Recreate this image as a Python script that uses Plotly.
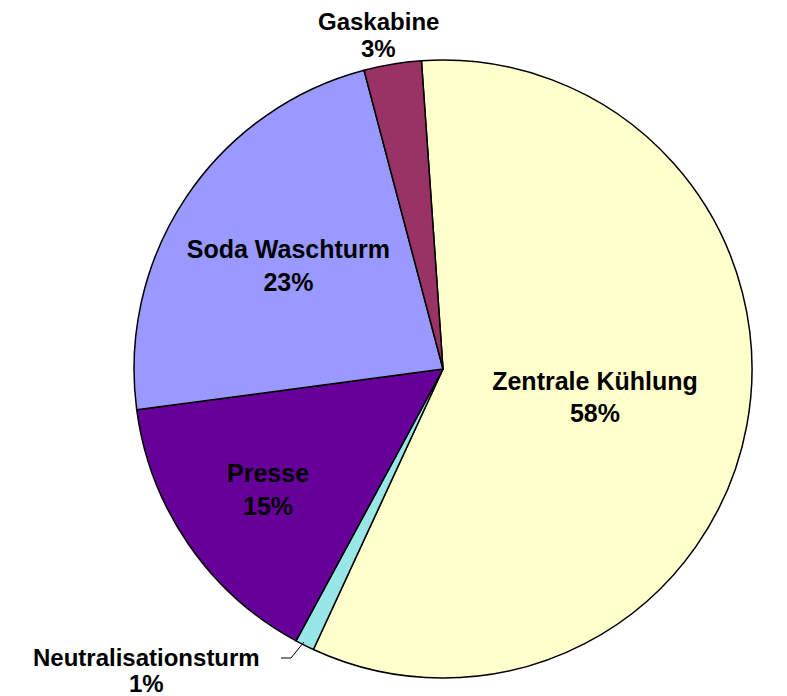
import plotly.graph_objects as go

labels = ["Zentrale Kühlung", "Neutralisationsturm", "Presse", "Soda Waschturm", "Gaskabine"]
values = [58, 1, 15, 23, 3]
colors = ["#FFFFCC", "#99E6E6", "#660099", "#9999FF", "#993366"]
textpos = ["inside", "none", "inside", "inside", "none"]

FONT = "Liberation Sans, Arial, sans-serif"
W, H = 787, 696
cx, cy, r = 435, 361, 309
dom_x = [(cx - r) / W, (cx + r) / W]
dom_y = [(H - cy - r) / H, (H - cy + r) / H]

total = sum(values)
pct = [f"{round(100 * v / total)}%" for v in values]

fig = go.Figure(go.Pie(
    labels=labels,
    values=values,
    sort=False,
    direction="clockwise",
    rotation=-4,
    marker=dict(colors=colors, line=dict(color="#000000", width=1.5)),
    texttemplate="<b>%{label}</b><br><b>%{percent:.0%}</b>",
    textposition=textpos,
    insidetextorientation="horizontal",
    textfont=dict(family=FONT, size=25, color="#000000"),
    insidetextfont=dict(family=FONT, size=25, color="#000000"),
    showlegend=False,
    hoverinfo="label+percent",
    domain=dict(x=dom_x, y=dom_y),
))

# Outside labels for the two small slices (name and percent on separate lines)
def outside_label(text, x_px, y_px):
    fig.add_annotation(
        xref="paper", yref="paper",
        x=x_px / W, y=1 - y_px / H,
        text=f"<b>{text}</b>",
        showarrow=False, xanchor="center", yanchor="middle", align="center",
        font=dict(family=FONT, size=24, color="#000000"),
    )

outside_label(labels[4], 370, 14)
outside_label(pct[4], 370, 40)
outside_label(labels[1], 138, 649)
outside_label(pct[1], 138, 675)

# leader line from the label to the thin slice
fig.add_shape(
    type="path", xref="paper", yref="paper",
    path=f"M {273 / W} {1 - 650 / H} L {283 / W} {1 - 650 / H} L {296 / W} {1 - 634 / H}",
    line=dict(color="#000000", width=1),
)

fig.update_layout(
    width=W, height=H,
    margin=dict(l=0, r=0, t=0, b=0),
    paper_bgcolor="#FFFFFF",
    plot_bgcolor="#FFFFFF",
)

fig.write_html("out.html")
